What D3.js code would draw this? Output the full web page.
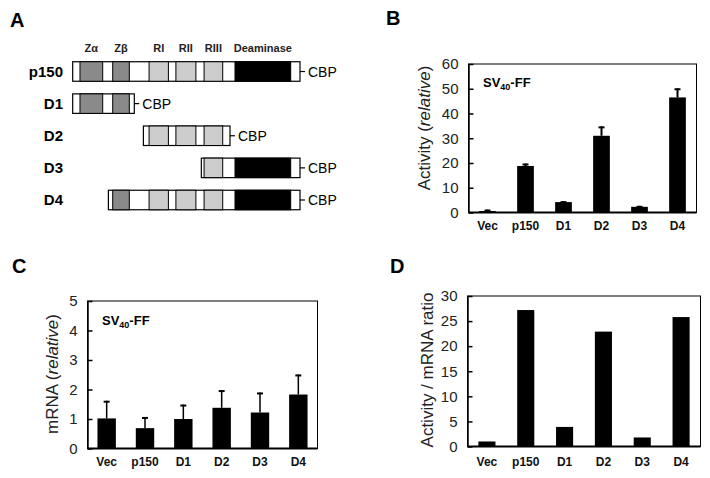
<!DOCTYPE html>
<html><head><meta charset="utf-8">
<script src="https://cdn.jsdelivr.net/npm/d3@7"></script>
<style>
body{margin:0;background:#fff;}
svg{display:block;font-family:"Liberation Sans",Arial,sans-serif;}
</style></head>
<body><svg id="c" width="710" height="478"></svg>
<script>
// ---- Data ----
const categories = ["Vec","p150","D1","D2","D3","D4"];
const activity = [0.6, 18.8, 4.2, 31.0, 2.3, 46.5];
const activityErr = [0.6, 1.0, 0.4, 3.8, 0.4, 3.7];
const mrna = [1.02, 0.69, 1.0, 1.38, 1.22, 1.83];
const mrnaErr = [0.6, 0.38, 0.49, 0.6, 0.68, 0.68];
const ratio = [1.0, 27.2, 3.9, 22.9, 1.8, 25.8];
const activityTicks = [0,10,20,30,40,50,60];
const mrnaTicks = [0,1,2,3,4,5];
const ratioTicks = [0,5,10,15,20,25,30];

// Panel A schematic (schematic units along p150, 0..100)
const domainNames = ["Z\u03b1","Z\u03b2","RI","RII","RIII","Deaminase"];
const domainStart = [3.2, 17.6, 33.6, 45.4, 57.8, 71.4];
const domainEnd   = [13.2, 24.9, 42.1, 54.2, 66.0, 95.9];
const domainShade = ["dark","dark","light","light","light","black"];
const constructs = ["p150","D1","D2","D3","D4"];
const constructStart = [0, 0, 31.1, 56.6, 15.7];
const constructEnd   = [100, 27.1, 69.2, 100, 100];
const tagLabel = "CBP";

const svg = d3.select("#c");
const FONT = "'Liberation Sans',Arial,sans-serif";
const shadeColor = {dark:"#8a8a8a", light:"#cdcdcd", black:"#000"};

// panel letters
[["A",10,27],["B",386,25],["C",12,273],["D",390,273]].forEach(([t,x,y])=>{
  svg.append("text").attr("x",x).attr("y",y).attr("font-size",20).attr("font-weight","bold").text(t);
});

// ---- Panel A ----
(function(){
  const x = d3.scaleLinear().domain([0,100]).range([72.7,300]);
  const y = d3.scalePoint().domain(constructs).range([71.5,200]);
  const h = 19.5;
  const g = svg.append("g");
  g.selectAll("text.hdr").data(domainNames).join("text")
    .attr("x",(d,i)=>x((domainStart[i]+domainEnd[i])/2))
    .attr("y",52).attr("text-anchor","middle")
    .attr("font-size",11).attr("font-weight","bold").attr("fill","#222")
    .text(d=>d);
  constructs.forEach((c,ci)=>{
    const s = constructStart[ci], e = constructEnd[ci], cy = y(c);
    g.append("text").attr("x",63).attr("y",cy).attr("dy","0.36em")
      .attr("text-anchor","end").attr("font-size",15).attr("font-weight","bold").text(c);
    g.append("rect").attr("x",x(s)).attr("y",cy-h/2).attr("width",x(e)-x(s)).attr("height",h)
      .attr("fill","#fff").attr("stroke","#000").attr("stroke-width",1.2);
    domainNames.forEach((dn,di)=>{
      const a = Math.max(s,domainStart[di]), b = Math.min(e,domainEnd[di]);
      if(b<=a) return;
      g.append("rect").attr("x",x(a)).attr("y",cy-h/2).attr("width",x(b)-x(a)).attr("height",h)
        .attr("fill",shadeColor[domainShade[di]]).attr("stroke","#000").attr("stroke-width",1);
    });
    g.append("line").attr("x1",x(e)).attr("x2",x(e)+5).attr("y1",cy).attr("y2",cy)
      .attr("stroke","#000").attr("stroke-width",1.2);
    g.append("text").attr("x",x(e)+8).attr("y",cy).attr("dy","0.36em")
      .attr("font-size",14).text(tagLabel);
  });
})();

// ---- Bar panel helper ----
function barPanel(opt){
  const x = d3.scaleBand().domain(categories).range([opt.x0,opt.x1])
    .paddingInner(opt.pad).paddingOuter(opt.pad/2);
  const y = d3.scaleLinear().domain([opt.ticks[0],opt.ticks[opt.ticks.length-1]]).range([opt.y0,opt.y1]);
  const g = svg.append("g");
  g.append("rect").attr("x",opt.x0).attr("y",opt.y1).attr("width",opt.x1-opt.x0).attr("height",opt.y0-opt.y1)
    .attr("fill","none").attr("stroke","#000").attr("stroke-width",1);
  if(opt.err){
    g.selectAll("g.err").data(categories).join("g").each(function(c,i){
      const cx = x(c)+x.bandwidth()/2;
      const top = y(opt.values[i]+opt.err[i]);
      d3.select(this).append("line").attr("x1",cx).attr("x2",cx)
        .attr("y1",y(opt.values[i])).attr("y2",top).attr("stroke","#000").attr("stroke-width",opt.errW);
      d3.select(this).append("line").attr("x1",cx-opt.cap).attr("x2",cx+opt.cap)
        .attr("y1",top+opt.capW/2).attr("y2",top+opt.capW/2).attr("stroke","#000").attr("stroke-width",opt.capW);
    });
  }
  g.selectAll("rect.bar").data(opt.values).join("rect")
    .attr("x",(d,i)=>x(categories[i])).attr("width",x.bandwidth())
    .attr("y",d=>y(d)).attr("height",d=>y(0)-y(d)).attr("fill","#000");
  const ax = g.append("g").attr("transform",`translate(${opt.x0},0)`)
    .call(d3.axisLeft(y).tickValues(opt.ticks).tickFormat(d3.format("d"))
      .tickSizeInner(-5).tickSizeOuter(0).tickPadding(10));
  ax.select(".domain").attr("stroke","#000").attr("stroke-width",1.5);
  ax.selectAll(".tick line").attr("stroke","#000").attr("stroke-width",1.5);
  ax.selectAll(".tick text").attr("font-size",15).attr("font-family",FONT).attr("fill","#222");
  g.append("line").attr("x1",opt.x0).attr("x2",opt.x1).attr("y1",opt.y0).attr("y2",opt.y0)
    .attr("stroke","#000").attr("stroke-width",2);
  g.selectAll("text.cat").data(categories).join("text")
    .attr("x",c=>x(c)+x.bandwidth()/2).attr("y",opt.y0+opt.catDy)
    .attr("text-anchor","middle").attr("font-size",12).attr("font-weight","bold").attr("fill","#111")
    .text(c=>c);
  const t = g.append("text").attr("transform",`translate(${opt.tx},${opt.ty}) rotate(-90)`)
    .attr("text-anchor","middle").attr("dy","0.35em").attr("font-size",17).attr("fill","#222");
  opt.title.forEach(([s,it])=>t.append("tspan").attr("font-style",it?"italic":"normal").text(s));
  if(opt.inset){
    const it = g.append("text").attr("x",opt.inset[0]).attr("y",opt.inset[1])
      .attr("font-size",13).attr("font-weight","bold");
    it.append("tspan").text("SV");
    it.append("tspan").attr("font-size",9).attr("dy",3).text("40");
    it.append("tspan").attr("dy",-3).text("-FF");
  }
}

barPanel({values:activity, err:activityErr, ticks:activityTicks,
  x0:468.5, x1:696.5, y0:212.5, y1:64, pad:0.56, errW:2, cap:3, capW:2,
  catDy:17.5, tx:424, ty:128, title:[["Activity ("],["relative",true],[")"]], inset:[483,87]});

barPanel({values:mrna, err:mrnaErr, ticks:mrnaTicks,
  x0:87.5, x1:317.5, y0:448.5, y1:301, pad:0.52, errW:1.5, cap:3, capW:2,
  catDy:17, tx:52, ty:374, title:[["mRNA ("],["relative",true],[")"]], inset:[102,325]});

barPanel({values:ratio, err:null, ticks:ratioTicks,
  x0:467.5, x1:700.5, y0:446.5, y1:296, pad:0.56,
  catDy:19, tx:427, ty:370, title:[["Activity / mRNA ratio"]]});
</script>
</body></html>
